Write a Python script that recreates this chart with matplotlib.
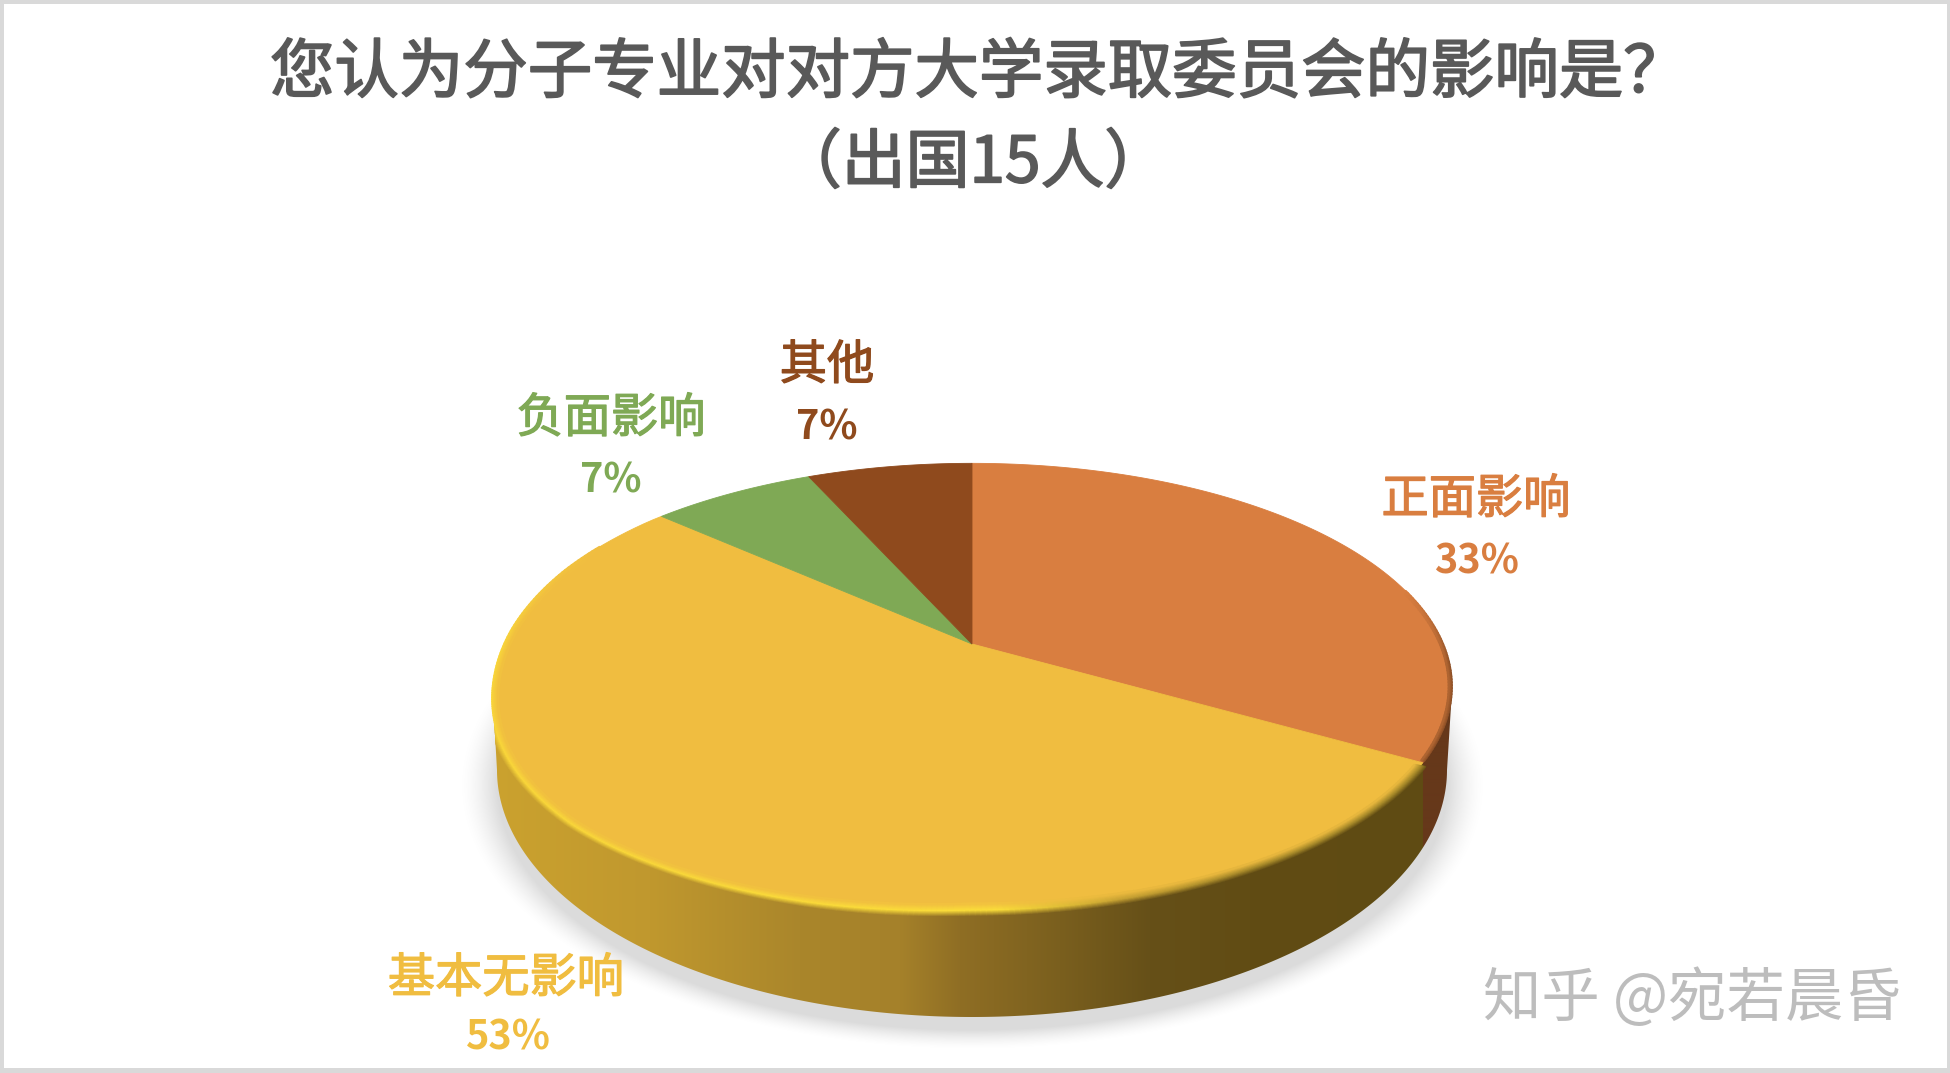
import matplotlib
matplotlib.use('Agg')
import matplotlib.pyplot as plt
import numpy as np
import matplotlib.patheffects as pe
from matplotlib.colors import to_rgb
from matplotlib.patches import Polygon, Rectangle

plt.rcParams['font.family'] = ['Noto Sans CJK SC', 'DejaVu Sans']

# survey answers, 15 people
categories = ['正面影响', '基本无影响', '负面影响', '其他']
counts = [5, 8, 1, 1]
slice_colors = ['#d97e40', '#f0bd40', '#7fa955', '#8f4a1d']
title_lines = ['您认为分子专业对对方大学录取委员会的影响是？', '（出国15人）']
watermark = '知乎 @宛若晨昏'

# where each label sits (name centre, percent centre) in picture pixels
label_pos = [((1476, 500), (1476, 562)), ((506, 979), (508, 1038)),
             ((611, 419), (611, 481)), ((827, 366), (827, 428))]

W, H = 1950, 1073
# perspective of the top face
CX, CY, A, B, K = 972, 644, 215, 471, 0.19
# lower edge of the wall
LOW_CX, LOW_CY, LOW_RX, LOW_RY = 972, 770, 475, 247
# the rim sags a little at the lower left
SAG_TH = [180, 195, 215, 228, 250, 262, 275, 292, 310]
SAG_DY = [0, 5, 10, 14, 14, 11, 6, 2, 0]


def top_xy(deg):
    th = np.radians(deg)
    s = 1 / (1 + K * np.cos(th))
    return CX + B * np.sin(th) * s, CY - A * np.cos(th) * s + np.interp(deg, SAG_TH, SAG_DY)


def mix(x, stops, colors):
    rgb = np.array([to_rgb(c) for c in colors])
    return np.column_stack([np.interp(x, stops, rgb[:, i]) for i in range(3)])


def bevel(th, rim, outer, inner, strength, offsets):
    # opaque thin strokes from outside in, so the band shows no seams
    x, y = top_xy(th)
    for off in offsets:
        k = 1 + off / np.hypot((x - 972), (y - 688))
        px = 972 + (x - 972) * k
        py = 688 + (y - 688) * k
        if off > 0:
            target, w = outer, np.clip(1 - off / 6, 0, 1)
        else:
            target, w = inner, np.clip(1 + off / 7, 0, 1)
        col = target + (rim - target) * (w * strength)[:, None]
        for i in range(0, len(th) - 1):
            seg, = ax.plot(px[i:i + 2], py[i:i + 2], color=col[i], lw=1.6, solid_capstyle='round', zorder=4)
            if off > 0:
                seg.set_clip_path(wall)


fig = plt.figure(figsize=(W / 100, H / 100), dpi=100)
ax = fig.add_axes([0, 0, 1, 1])
ax.axis('off')
ax.add_patch(Rectangle((0, 0), W, H, fc='#d9d9d9', ec='none', zorder=0))
ax.add_patch(Rectangle((3.5, 4), W - 7, H - 9, fc='white', ec='none', zorder=0))

# soft shadow under the pie
gx, gy = np.meshgrid(np.arange(440, 1510), np.arange(640, 1066))
d = np.hypot((gx - 972) / 497, (gy - 785) / 256)
shadow = np.zeros(gx.shape + (4,))
shadow[..., :3] = 0.72
shadow[..., 3] = 0.5 * np.clip((1.03 - d) / 0.075, 0, 1) ** 1.5
ax.imshow(shadow, extent=(440, 1510, 1066, 640), aspect='auto', zorder=1)

shares = np.array(counts) / sum(counts)
edges = np.concatenate([[0], np.cumsum(shares) * 360])
corner_x = top_xy(edges[1])[0]

# wall outline: down from the rim, round the lower ellipse and back up
t = np.linspace(np.pi, 0, 300)
wall_x = np.concatenate([[493], LOW_CX + LOW_RX * np.cos(t), [1452]])
wall_y = np.concatenate([[700], LOW_CY + LOW_RY * np.sin(t), [690]])
wall = Polygon(np.column_stack([wall_x, wall_y]), closed=True, transform=ax.transData)

# yellow wall shading goes dark to the right, orange wall past the slice edge
xs = np.arange(485, 1460)
stops = [492, 650, 800, 900, 960, 1060, 1150, 1250, corner_x]
shades = ['#cba22f', '#c0982e', '#aa862b', '#a5812a', '#8f6e24', '#7a5f1e', '#665018', '#614c14', '#5f4b13']
row = mix(xs, stops, shades)
row[xs > corner_x] = to_rgb('#66381a')
im = ax.imshow(row[np.newaxis, :, :], extent=(485, 1460, 1030, 680), aspect='auto',
               interpolation='bilinear', zorder=2)
im.set_clip_path(wall)

# top face
for i, color in enumerate(slice_colors):
    th = np.linspace(edges[i], edges[i + 1], 120)
    x, y = top_xy(th)
    ax.fill(np.r_[CX, x], np.r_[CY, y], color=color, lw=0.6, zorder=3)

# bevel along the front rim of the yellow slice
th = np.linspace(edges[1] + 0.8, 262, 260)
x = top_xy(th)[0]
rim = mix(x, [492, 1000, 1120, 1250, corner_x], ['#f9d63a', '#fbdd3a', '#c8a233', '#a88a2a', '#a88a2a'])
wall_col = mix(x, stops, shades)
top_col = np.tile(to_rgb(slice_colors[1]), (len(th), 1))
bevel(th, rim, wall_col, top_col, np.ones(len(th)), [5, 4, 3, 2, 1, 0, -1, -2, -3, -4, -5, -6])

th = np.linspace(262, 300, 50)
rim = np.tile(to_rgb('#f9d63a'), (len(th), 1))
top_col = np.tile(to_rgb(slice_colors[1]), (len(th), 1))
bevel(th, rim, top_col, top_col, np.clip((300 - th) / 30, 0, 1), [0, -1, -2, -3, -4, -5, -6])

# darker fringe on the orange slice
th = np.linspace(75, edges[1] - 0.5, 60)
rim = np.tile(to_rgb('#8e5026'), (len(th), 1))
wall_col = np.tile(to_rgb('#66381a'), (len(th), 1))
top_col = np.tile(to_rgb(slice_colors[0]), (len(th), 1))
bevel(th, rim, wall_col, top_col, np.clip((th - 75) / 20, 0, 1), [0, -1, -2, -3])

# title
thick = [pe.withStroke(linewidth=1.3, foreground='#595959')]
ax.text(270, 74, title_lines[0], ha='left', va='center', fontsize=46.4, color='#595959',
        zorder=5, path_effects=thick)
ax.text(973, 164, title_lines[1], ha='center', va='center', fontsize=46, color='#595959',
        zorder=5, path_effects=thick)

# slice labels
for name, share, color, (p1, p2) in zip(categories, shares, slice_colors, label_pos):
    ax.text(p1[0], p1[1], name, ha='center', va='center', fontsize=34, color=color,
            zorder=5, path_effects=[pe.withStroke(linewidth=0.9, foreground=color)])
    ax.text(p2[0], p2[1], f'{share * 100:.0f}%', ha='center', va='center', fontsize=28.5, color=color,
            fontweight='bold', zorder=5)

ax.text(1692, 1000, watermark, ha='center', va='center', fontsize=42, color='#bdbdbd',
        fontweight='light', zorder=5)

ax.set_xlim(0, W)
ax.set_ylim(H, 0)
fig.savefig('out.png', dpi=100)
